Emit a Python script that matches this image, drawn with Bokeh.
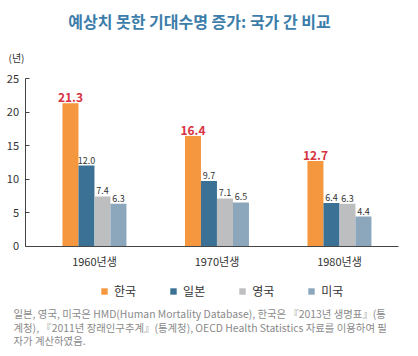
from bokeh.plotting import figure
from bokeh.models import (ColumnDataSource, Range1d, Label, Legend, LegendItem,
                          FixedTicker)
from bokeh.transform import dodge
from bokeh.core.properties import value
from bokeh.embed import file_html
from bokeh.resources import INLINE

# ---- data ----
cohorts = ["1960년생", "1970년생", "1980년생"]
countries = ["한국", "일본", "영국", "미국"]
korea = [21.3, 16.4, 12.7]
japan = [12.0, 9.7, 6.4]
uk = [7.4, 7.1, 6.3]
usa = [6.3, 6.5, 4.4]
y_ticks = [0, 5, 10, 15, 20, 25]
title_text = "예상치 못한 기대수명 증가: 국가 간 비교"
unit_text = "(년)"
note_lines = [
    "일본, 영국, 미국은 HMD(Human Mortality Database), 한국은 『2013년 생명표』(통",
    "계청), 『2011년 장래인구추계』(통계청), OECD Health Statistics 자료를 이용하여 필",
    "자가 계산하였음.",
]

# ---- style / geometry ----
colors = ["#F5973F", "#3A7194", "#BDBEC0", "#8CA6BC"]
FONT = "Noto Sans CJK KR"
W, H = 410, 348
AX_L, AX_R = 24.5, 398.0        # axis pixel extent (x)
AX_T, AX_B = 78.0, 245.5        # axis pixel extent (y)
X0, X1 = -0.567, 2.482          # axis extent (data)
Y0, Y1 = 0, 25
PXX = (AX_R - AX_L) / (X1 - X0)
PXU = (AX_B - AX_T) / (Y1 - Y0)
XS, XE = X0 - AX_L / PXX, X1 + (W - AX_R) / PXX
YS, YE = Y0 - (H - AX_B) / PXU, Y1 + AX_T / PXU

idx = list(range(len(cohorts)))
src = ColumnDataSource(dict(
    idx=idx, 한국=korea, 일본=japan, 영국=uk, 미국=usa,
    l_kr=[f"{v:.1f}" for v in korea],
    l_jp=[f"{v:.1f}" for v in japan],
    l_uk=[f"{v:.1f}" for v in uk],
    l_us=[f"{v:.1f}" for v in usa],
))

p = figure(width=W, height=H, x_range=Range1d(XS, XE), y_range=Range1d(YS, YE),
           output_backend="svg", toolbar_location=None,
           min_border_left=0, min_border_right=0, min_border_top=0,
           min_border_bottom=0)
p.outline_line_color = None
p.grid.visible = False
p.background_fill_color = "white"
p.border_fill_color = "white"

bw = 0.1306
offs = [-1.5 * bw, -0.5 * bw, 0.5 * bw, 1.5 * bw]
renderers = []
for c, col, o in zip(countries, colors, offs):
    r = p.vbar(x=dodge("idx", o), top=c, width=bw, source=src,
               fill_color=col, line_color=None)
    renderers.append(r)

# value labels
p.text(x=dodge("idx", offs[0]), y="한국", text="l_kr", source=src,
       text_align="center", text_baseline="bottom", y_offset=-1,
       text_font=value(FONT), text_font_style="bold", text_font_size="12px",
       text_color="#D8323F")
for key, col, o in zip(["l_jp", "l_uk", "l_us"], ["일본", "영국", "미국"], offs[1:]):
    p.text(x=dodge("idx", o), y=col, text=key, source=src,
           text_align="center", text_baseline="bottom", y_offset=-2,
           text_font=value(FONT), text_font_size="9px", text_color="#333333")

# axes (drawn at fixed locations inside the full-canvas frame)
p.yaxis.fixed_location = X0
p.yaxis.bounds = (Y0, Y1)
p.yaxis.ticker = FixedTicker(ticks=y_ticks)
p.yaxis.major_tick_in = 4
p.yaxis.major_tick_out = 0
p.yaxis.minor_tick_line_color = None
p.yaxis.major_label_standoff = 6
p.yaxis.major_label_text_font = FONT
p.yaxis.major_label_text_font_size = "11px"
p.yaxis.major_label_text_color = "#333333"
p.yaxis.axis_line_color = "#444444"
p.yaxis.major_tick_line_color = "#444444"

p.xaxis.fixed_location = Y0
p.xaxis.bounds = (X0, X1)
p.xaxis.ticker = FixedTicker(ticks=idx)
p.xaxis.major_label_overrides = {i: c for i, c in zip(idx, cohorts)}
p.xaxis.major_tick_in = 0
p.xaxis.major_tick_out = 0
p.xaxis.minor_tick_line_color = None
p.xaxis.major_label_standoff = 7
p.xaxis.major_label_text_font = FONT
p.xaxis.major_label_text_font_size = "11px"
p.xaxis.major_label_text_color = "#333333"
p.xaxis.axis_line_color = "#444444"

# legend
legend = Legend(items=[LegendItem(label=c, renderers=[r]) for c, r in zip(countries, renderers)],
                orientation="horizontal", location=(100, 49),
                glyph_width=8, glyph_height=8, label_standoff=6, spacing=33,
                padding=0, margin=0, border_line_color=None,
                background_fill_alpha=0,
                label_text_font=FONT, label_text_font_size="12px",
                label_text_color="#333333")
p.add_layout(legend, "center")

# title and unit label
p.add_layout(Label(x=X0, y=Y1 + (AX_T - 20) / PXU, x_offset=199 - AX_L, text=title_text,
                   text_align="center", text_baseline="middle",
                   text_font=FONT, text_font_style="bold", text_font_size="16px",
                   text_color="#3C7DAA"))
p.add_layout(Label(x=X0, y=Y1 + (AX_T - 57) / PXU, x_offset=8 - AX_L, text=unit_text,
                   text_align="left", text_baseline="middle",
                   text_font=FONT, text_font_size="10px", text_color="#333333"))

# footnote
for line, yc in zip(note_lines, [313, 327, 340]):
    p.add_layout(Label(x=X0, y=-(yc - AX_B) / PXU, x_offset=13 - AX_L, text=line,
                       text_align="left", text_baseline="middle",
                       text_font=FONT, text_font_size="10.4px", text_color="#8A8A8A"))

open("out.html", "w").write(file_html(p, INLINE))
